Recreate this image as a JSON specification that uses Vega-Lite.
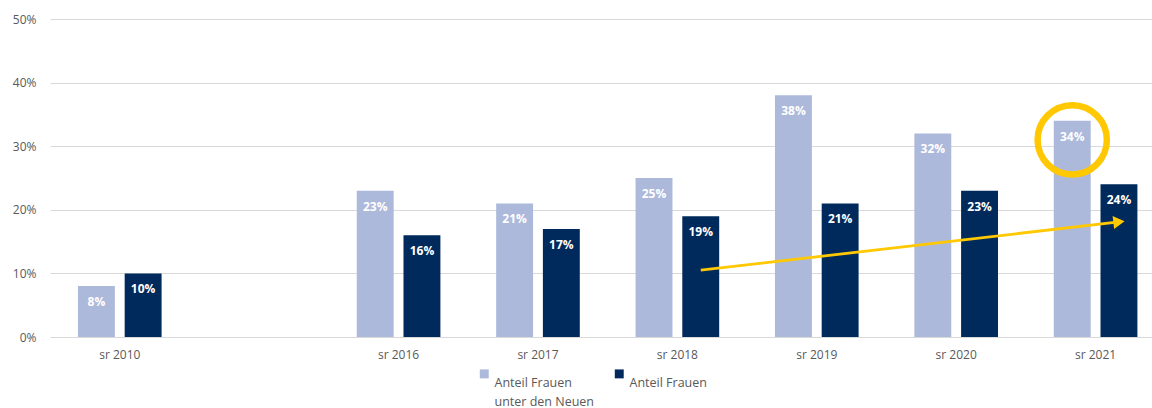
{
  "$schema": "https://vega.github.io/schema/vega-lite/v6.json",
  "width": 1102,
  "height": 318,
  "autosize": {"type": "none"},
  "padding": {"left": 50, "top": 19, "right": 0, "bottom": 71},
  "background": "white",
  "config": {
    "font": "Open Sans",
    "view": {"stroke": null},
    "axis": {"labelFont": "Open Sans", "labelColor": "#595959", "labelFontSize": 12, "domain": false, "ticks": false, "title": null},
    "style": {"guide-label": {"lineHeight": 19}}
  },
  "datasets": {
    "bars": [
      {"year": "sr 2010", "series": "Anteil Frauen unter den Neuen", "value": 0.08},
      {"year": "sr 2010", "series": "Anteil Frauen", "value": 0.10},
      {"year": "sr 2016", "series": "Anteil Frauen unter den Neuen", "value": 0.23},
      {"year": "sr 2016", "series": "Anteil Frauen", "value": 0.16},
      {"year": "sr 2017", "series": "Anteil Frauen unter den Neuen", "value": 0.21},
      {"year": "sr 2017", "series": "Anteil Frauen", "value": 0.17},
      {"year": "sr 2018", "series": "Anteil Frauen unter den Neuen", "value": 0.25},
      {"year": "sr 2018", "series": "Anteil Frauen", "value": 0.19},
      {"year": "sr 2019", "series": "Anteil Frauen unter den Neuen", "value": 0.38},
      {"year": "sr 2019", "series": "Anteil Frauen", "value": 0.21},
      {"year": "sr 2020", "series": "Anteil Frauen unter den Neuen", "value": 0.32},
      {"year": "sr 2020", "series": "Anteil Frauen", "value": 0.23},
      {"year": "sr 2021", "series": "Anteil Frauen unter den Neuen", "value": 0.34},
      {"year": "sr 2021", "series": "Anteil Frauen", "value": 0.24}
    ],
    "circle": [
      {"year": "sr 2021", "series": "Anteil Frauen unter den Neuen", "value": 0.31}
    ],
    "arrow": [
      {"year": "sr 2018", "series": "Anteil Frauen", "value": 0.105},
      {"year": "sr 2021", "series": "Anteil Frauen", "value": 0.181}
    ],
    "arrowhead": [
      {"year": "sr 2021", "series": "Anteil Frauen", "value": 0.181}
    ]
  },
  "encoding": {
    "x": {
      "field": "year", "type": "nominal",
      "scale": {"domain": ["sr 2010", " ", "sr 2016", "sr 2017", "sr 2018", "sr 2019", "sr 2020", "sr 2021"], "paddingInner": 0.4, "paddingOuter": 0.1526, "align": 0.657},
      "axis": {"labelAngle": 0, "labelPadding": 12, "grid": false}
    },
    "xOffset": {
      "field": "series", "type": "nominal",
      "scale": {"domain": ["Anteil Frauen unter den Neuen", "Anteil Frauen"], "paddingInner": 0.21, "paddingOuter": 0}
    },
    "y": {
      "field": "value", "type": "quantitative",
      "scale": {"domain": [0, 0.5], "nice": false},
      "axis": {"format": ".0%", "values": [0, 0.1, 0.2, 0.3, 0.4, 0.5], "gridColor": "#D9D9D9", "gridWidth": 1, "labelPadding": 14}
    }
  },
  "layer": [
    {
      "data": {"name": "bars"},
      "mark": {"type": "bar"},
      "encoding": {
        "color": {
          "field": "series", "type": "nominal",
          "scale": {"domain": ["Anteil Frauen unter den Neuen", "Anteil Frauen"], "range": ["#ADB9DB", "#002A5C"]},
          "legend": {
            "title": null, "orient": "none", "direction": "horizontal",
            "legendX": 428, "legendY": 358,
            "symbolType": "M-1,-3.12 h2 v2 h-2 z", "symbolSize": 80, "symbolStrokeWidth": 0,
            "labelFont": "Open Sans", "labelFontSize": 12.5, "labelColor": "#595959",
            "labelBaseline": "middle",
            "columnPadding": 18,
            "labelExpr": "datum.label == 'Anteil Frauen unter den Neuen' ? ['Anteil Frauen', 'unter den Neuen'] : [datum.label, ' ']"
          }
        }
      }
    },
    {
      "data": {"name": "bars"},
      "mark": {"type": "text", "color": "white", "fontWeight": "bold", "fontSize": 12, "baseline": "middle", "dy": 16, "font": "Open Sans"},
      "encoding": {
        "text": {"field": "value", "type": "quantitative", "format": ".0%"}
      }
    },
    {
      "data": {"name": "circle"},
      "mark": {"type": "point", "shape": "circle", "filled": false, "stroke": "#FFC800", "strokeWidth": 6.5, "size": 4800, "opacity": 1, "xOffset": -3}
    },
    {
      "data": {"name": "arrow"},
      "mark": {"type": "line", "color": "#FFC800", "strokeWidth": 2.8},
      "encoding": {}
    },
    {
      "data": {"name": "arrowhead"},
      "mark": {"type": "point", "shape": "triangle-right", "filled": true, "color": "#FFC800", "size": 170, "angle": -7, "opacity": 1}
    }
  ]
}
